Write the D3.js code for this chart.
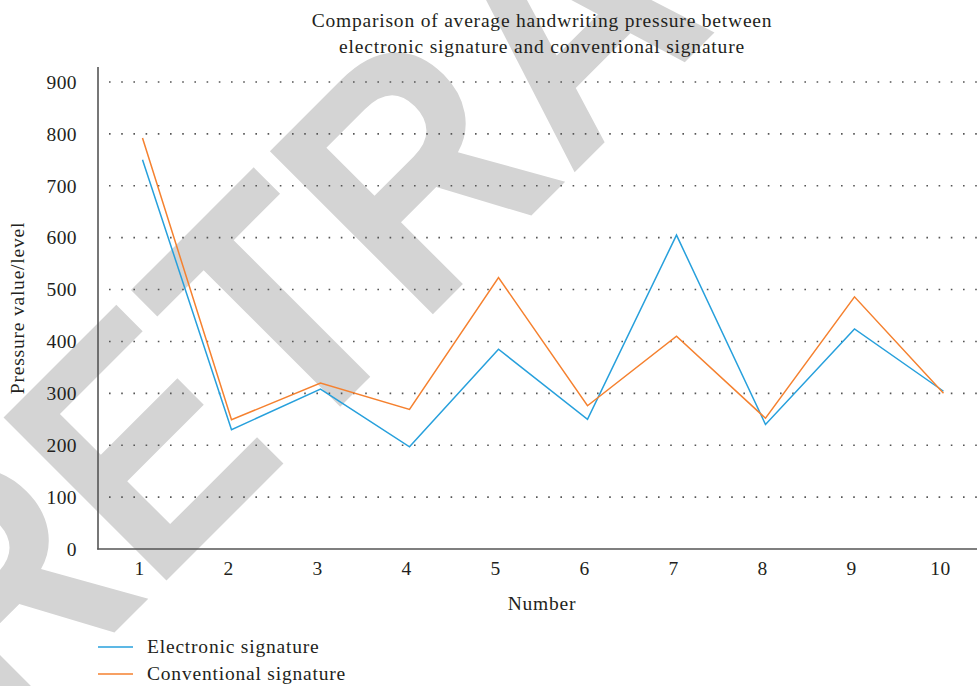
<!DOCTYPE html>
<html>
<head>
<meta charset="utf-8">
<script src="https://cdn.jsdelivr.net/npm/d3@7"></script>
<style>
  html, body { margin: 0; padding: 0; background: #fff; }
  svg { display: block; }
  text { font-family: "Liberation Serif", "Times New Roman", serif; fill: #231f20; }
</style>
</head>
<body>
<svg id="chart" width="977" height="686"></svg>
<script>
// Sample numbers along the x axis
const categories = [1, 2, 3, 4, 5, 6, 7, 8, 9, 10];
// Average handwriting pressure per sample
const electronic = [750, 230, 308, 197, 385, 250, 605, 240, 424, 304];
const conventional = [792, 249, 320, 269, 523, 276, 410, 252, 486, 300];
const yTicks = [0, 100, 200, 300, 400, 500, 600, 700, 800, 900];
const seriesNames = ["Electronic signature", "Conventional signature"];
const seriesColors = ["#27a0dc", "#f5812f"];
const titleLines = [
  "Comparison of average handwriting pressure between",
  "electronic signature and conventional signature"
];

(function () {
const svg = d3.select("#chart");
const W = 977;
const plotLeft = 98, plotTop = 67, plotBottom = 549;
const labelFont = "19.5px", labelSpacing = "0.8px";

// Watermark stamped across the figure, beneath everything else
svg.append("text")
  .attr("transform", "translate(2,745) rotate(-45) scale(0.88,1)")
  .style("font-family", "'Liberation Sans', Arial, sans-serif")
  .style("font-weight", "bold")
  .style("font-size", "335px")
  .style("fill", "#d4d4d4")
  .text("RETRACTED");

const x = d3.scaleBand().domain(categories).range([plotLeft, 988]);
const y = d3.scaleLinear().domain([0, 900]).range([plotBottom, 82]);

// Dotted horizontal gridlines
svg.append("g")
  .selectAll("line")
  .data(yTicks.filter(d => d > 0))
  .join("line")
  .attr("x1", 109).attr("x2", W)
  .attr("y1", d => y(d)).attr("y2", d => y(d))
  .attr("stroke", "#555")
  .attr("stroke-width", 1.6)
  .attr("stroke-dasharray", "1.6,10.6");

// Y axis
const yAxis = svg.append("g")
  .attr("transform", `translate(${plotLeft},0)`)
  .call(d3.axisLeft(y).tickValues(yTicks).tickSize(0).tickPadding(21));
yAxis.select(".domain").remove();
yAxis.selectAll("text")
  .style("font-size", labelFont)
  .style("letter-spacing", "0.4px")
  .style("font-family", "'Liberation Serif', serif")
  .attr("fill", "#231f20");
svg.append("line")
  .attr("x1", plotLeft).attr("x2", plotLeft)
  .attr("y1", plotTop).attr("y2", plotBottom + 0.5)
  .attr("stroke", "#555").attr("stroke-width", 1.6);

// X axis
const xAxis = svg.append("g")
  .attr("transform", `translate(0,${plotBottom})`)
  .call(d3.axisBottom(x).tickSize(0).tickPadding(12));
xAxis.select(".domain").remove();
xAxis.selectAll("text")
  .attr("dx", "-3")
  .style("font-size", labelFont)
  .style("letter-spacing", "0.4px")
  .style("font-family", "'Liberation Serif', serif")
  .attr("fill", "#231f20");
svg.append("line")
  .attr("x1", plotLeft - 0.8).attr("x2", W)
  .attr("y1", plotBottom).attr("y2", plotBottom)
  .attr("stroke", "#555").attr("stroke-width", 1.6);

// Series lines
const line = d3.line()
  .x((d, i) => x(categories[i]) + x.bandwidth() / 2)
  .y(d => y(d));
[electronic, conventional].forEach((vals, k) => {
  svg.append("path")
    .datum(vals)
    .attr("d", line)
    .attr("fill", "none")
    .attr("stroke", seriesColors[k])
    .attr("stroke-width", 1.5)
    .attr("stroke-linejoin", "miter");
});

// Title
svg.append("text")
  .attr("x", 542).attr("text-anchor", "middle")
  .style("font-size", labelFont)
  .style("letter-spacing", labelSpacing)
  .selectAll("tspan")
  .data(titleLines)
  .join("tspan")
  .attr("x", 542)
  .attr("y", (d, i) => 27 + i * 25.5)
  .text(d => d);

// Axis titles
svg.append("text")
  .attr("x", 542).attr("y", 610)
  .attr("text-anchor", "middle")
  .style("font-size", labelFont)
  .style("letter-spacing", labelSpacing)
  .text("Number");
svg.append("text")
  .attr("transform", "translate(24,308) rotate(-90)")
  .attr("text-anchor", "middle")
  .style("font-size", labelFont)
  .style("letter-spacing", labelSpacing)
  .text("Pressure value/level");

// Legend
const legend = svg.append("g");
seriesNames.forEach((name, k) => {
  const ly = 647 + k * 27;
  legend.append("line")
    .attr("x1", 98).attr("x2", 133)
    .attr("y1", ly).attr("y2", ly)
    .attr("stroke", seriesColors[k]).attr("stroke-width", 1.5);
  legend.append("text")
    .attr("x", 147).attr("y", ly + 6)
    .style("font-size", labelFont)
    .style("letter-spacing", labelSpacing)
    .text(name);
});
})();
</script>
</body>
</html>
